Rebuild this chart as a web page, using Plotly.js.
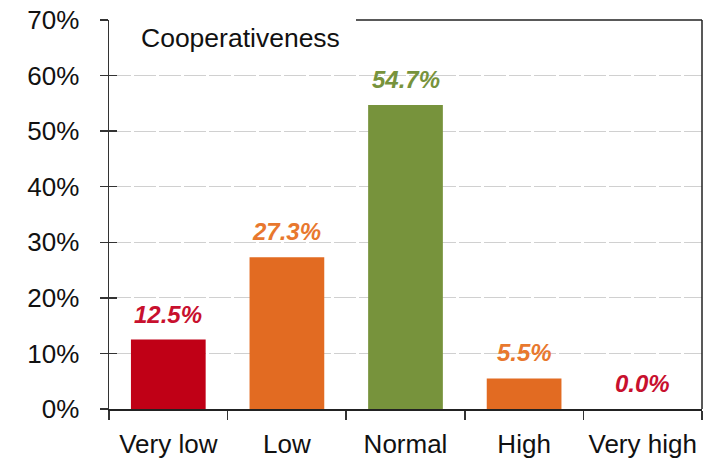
<!DOCTYPE html>
<html>
<head>
<meta charset="utf-8">
<script src="https://cdn.plot.ly/plotly-3.0.1.min.js"></script>
<style>html,body{margin:0;padding:0;background:#fff;}#chart{width:725px;height:460px;}</style>
</head>
<body>
<div id="chart"></div>
<script>
const categories = ["Very low", "Low", "Normal", "High", "Very high"];
const values = [12.5, 27.3, 54.7, 5.5, 0.0];
const valueLabels = ["12.5%", "27.3%", "54.7%", "5.5%", "0.0%"];
const yTickValues = [0, 10, 20, 30, 40, 50, 60, 70];
const yTickLabels = ["0%", "10%", "20%", "30%", "40%", "50%", "60%", "70%"];
const chartTitle = "Cooperativeness";

const barColors = ["#C00016", "#E26B22", "#77933C", "#E26B22", "#C00016"];
const labelColors = ["#C8102E", "#E8782E", "#77933C", "#E8782E", "#C8102E"];

const font = "Liberation Sans, Arial, sans-serif";
const narrow = "Liberation Sans Narrow, Arial Narrow, Liberation Sans, Arial, sans-serif";

const traces = [
  {
    type: "bar",
    x: categories,
    y: values,
    marker: {color: barColors, line: {width: 0}},
    hoverinfo: "skip",
    showlegend: false
  },
  {
    type: "scatter",
    x: [],
    y: [],
    yaxis: "y2",
    showlegend: false,
    hoverinfo: "skip"
  }
];

const annotations = categories.map((c, i) => ({
  x: c,
  y: values[i],
  xref: "x",
  yref: "y",
  text: valueLabels[i],
  showarrow: false,
  yanchor: "bottom",
  yshift: 10,
  font: {family: narrow, size: 24, color: labelColors[i], weight: "bold", style: "italic"}
}));

annotations.push({
  xref: "paper", yref: "paper",
  x: 0.0506, y: 1,
  xanchor: "left", yanchor: "top",
  yshift: -1,
  text: chartTitle,
  showarrow: false,
  font: {family: font, size: 26.5, color: "#111"}
});

const layout = {
  width: 725,
  height: 460,
  margin: {l: 109, r: 23, t: 20, b: 51},
  paper_bgcolor: "#fff",
  plot_bgcolor: "#fff",
  bargap: 0.37,
  font: {family: font, color: "#111"},
  xaxis: {
    type: "category",
    showline: true,
    linecolor: "#222",
    linewidth: 2,
    ticks: "outside",
    tickson: "boundaries",
    ticklen: 9,
    tickcolor: "#333",
    tickwidth: 1.5,
    tickfont: {family: font, size: 26, color: "#111"},
    ticklabelstandoff: 11,
    showgrid: false,
    zeroline: false,
    fixedrange: true
  },
  yaxis: {
    range: [0, 70],
    tickvals: yTickValues,
    ticktext: yTickLabels,
    showline: true,
    linecolor: "#333",
    linewidth: 1.5,
    ticks: "outside",
    ticklen: 8,
    tickwidth: 1.5,
    tickcolor: "#333",
    tickfont: {family: font, size: 26, color: "#111"},
    ticklabelstandoff: 15,
    showgrid: true,
    gridcolor: "#d0d0d0",
    gridwidth: 1.2,
    griddash: "22px,3px",
    zeroline: false,
    fixedrange: true
  },
  yaxis2: {
    overlaying: "y",
    side: "left",
    range: [0, 70],
    tickvals: yTickValues,
    showticklabels: false,
    ticks: "inside",
    ticklen: 8,
    tickwidth: 1.5,
    tickcolor: "#333",
    showline: false,
    showgrid: false,
    zeroline: false,
    fixedrange: true
  },
  shapes: [
    {type: "line", xref: "paper", yref: "paper", x0: 0.4165, x1: 1, y0: 1, y1: 1, line: {color: "#222", width: 1.5}},
    {type: "line", xref: "paper", yref: "paper", x0: 1, x1: 1, y0: 0, y1: 1, line: {color: "#222", width: 1.5}}
  ],
  annotations: annotations
};

Plotly.newPlot("chart", traces, layout, {staticPlot: true, displayModeBar: false});
</script>
</body>
</html>
